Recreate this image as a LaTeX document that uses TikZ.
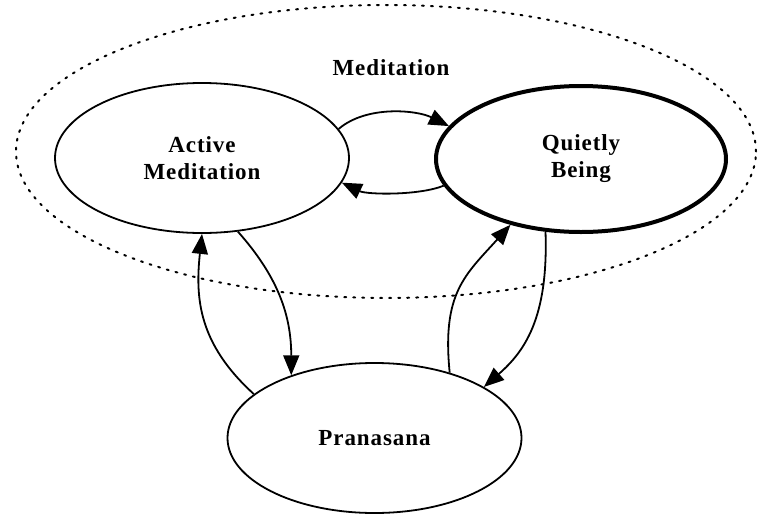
\documentclass[tikz,border=0pt]{standalone}
\usepackage{fontspec}
\setmainfont{Liberation Serif}[LetterSpace=4]
\usetikzlibrary{arrows.meta,shapes.geometric}
\tikzset{
  statebox/.style={ellipse, draw, line width=1.8pt, minimum width=294pt, minimum height=150pt,
    inner sep=0pt, align=center, font=\bfseries\fontsize{23}{27}\selectfont},
  thickstate/.style={statebox, line width=4pt},
  lbl/.style={inner sep=0pt, font=\bfseries\fontsize{23}{27}\selectfont},
  arr/.style={line width=1.8pt, -{Triangle[length=20pt,width=16pt]}},
  group/.style={line width=2pt, dash pattern=on 2pt off 7pt, line cap=round}
}
\begin{document}
\begin{tikzpicture}[x=1pt,y=-1pt]
\useasboundingbox (0,0) rectangle (758,517);
\draw[group] (386,151.5) ellipse [x radius=370pt, y radius=146.5pt];
\node[lbl] (medlabel) at (391,68) {Meditation};
\node[statebox] (am) at (202,158) {Active\\Meditation};
\node[thickstate, minimum width=290pt, minimum height=146pt] (qb) at (581,159) {Quietly\\Being};
\node[statebox] (pr) at (374.5,438) {Pranasana};
% top pair
\draw[arr] (am.12) .. controls +(28,-24) and +(-32,-16) .. (qb.166);
\draw[arr] (qb.191) .. controls +(-25,10) and +(25,12) .. (am.-10);
% left pair
\draw[arr] (pr.160) .. controls +(-55,-50) and +(-7,65) .. (am.-90);
\draw[arr] (am.-64) .. controls +(40,45) and +(0,-60) .. (pr.143);
% right pair
\draw[arr] (pr.41.5) .. controls +(-8,-80) and +(-45,50) .. (qb.-137);
\draw[arr] (qb.-116) .. controls +(3,87) and +(40,-35) .. (pr.25.6);
\end{tikzpicture}
\end{document}
